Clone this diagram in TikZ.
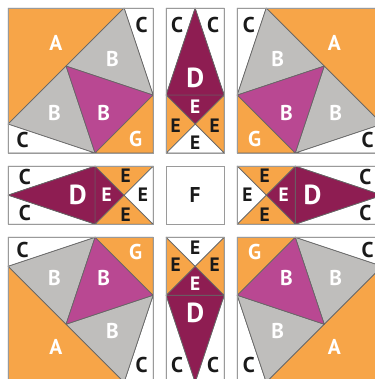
\documentclass[tikz,border=0pt]{standalone}
\usepackage{fontspec}
\setmainfont{PT Sans}

\definecolor{quiltorange}{HTML}{F7A548}
\definecolor{quiltgray}{HTML}{BFBEBC}
\definecolor{quiltpink}{HTML}{B94892}
\definecolor{quiltwine}{HTML}{8E1D52}
\definecolor{seam}{HTML}{666666}
\definecolor{edge}{HTML}{9A9A9A}
\definecolor{ink}{HTML}{1A1A1A}

% square corner block, drawn as the top left one
\newcommand{\cornerblock}[1]{%
\filldraw[piece, fill=quiltorange] (0,5) -- (4,5) -- (0,1) -- cycle;
\filldraw[piece, fill=white]       (4,5) -- (5,5) -- (5,2) -- cycle;
\filldraw[piece, fill=quiltgray]   (2,3) -- (4,5) -- (5,2) -- cycle;
\filldraw[piece, fill=quiltgray]   (2,3) -- (0,1) -- (3,0) -- cycle;
\filldraw[piece, fill=quiltpink]   (2,3) -- (5,2) -- (3,0) -- cycle;
\filldraw[piece, fill=quiltorange] (5,2) -- (5,0) -- (3,0) -- cycle;
\filldraw[piece, fill=white]       (0,1) -- (0,0) -- (3,0) -- cycle;
\draw[frame] (0,0) rectangle (5,5);
\node[lab] (#1-a)  at (1.65,3.8)  {A};
\node[lab] (#1-b1) at (3.6,3.25)  {B};
\node[lab] (#1-b2) at (1.6,1.4)   {B};
\node[lab] (#1-b3) at (3.3,1.4)   {B};
\node[lab] (#1-g)  at (4.4,0.5)   {G};
\node[lab,ink] (#1-c1) at (4.6,4.42) {C};
\node[lab,ink] (#1-c2) at (0.5,0.45) {C};
}

% sashing strip, drawn as the top middle one
\newcommand{\sashstrip}[1]{%
\filldraw[piece, fill=white]       (0,5) -- (1,5) -- (0,2) -- cycle;
\filldraw[piece, fill=white]       (1,5) -- (2,5) -- (2,2) -- cycle;
\filldraw[piece, fill=quiltwine]   (1,5) -- (0,2) -- (2,2) -- cycle;
\filldraw[piece, fill=quiltwine]   (0,2) -- (2,2) -- (1,1) -- cycle;
\filldraw[piece, fill=quiltorange] (0,2) -- (1,1) -- (0,0) -- cycle;
\filldraw[piece, fill=quiltorange] (2,2) -- (2,0) -- (1,1) -- cycle;
\filldraw[piece, fill=white]       (0,0) -- (2,0) -- (1,1) -- cycle;
\draw[frame] (0,0) rectangle (2,5);
\node[lab,ink] (#1-c1) at (0.38,4.42) {C};
\node[lab,ink] (#1-c2) at (1.62,4.42) {C};
\node[lab,big] (#1-d)  at (1,2.6)    {D};
\node[lab,small] (#1-e1) at (1,1.6)  {E};
\node[lab,small,ink] (#1-e2) at (0.33,0.95) {E};
\node[lab,small,ink] (#1-e3) at (1.67,0.95) {E};
\node[lab,small,ink] (#1-e4) at (1,0.35)    {E};
}

\begin{document}
\begin{tikzpicture}[piece/.style={draw=seam, line width=0.7pt, line join=round},
  frame/.style={draw=edge, line width=1.1pt},
  lab/.style={text=white, inner sep=0pt, font=\bfseries\fontsize{21}{21}\selectfont},
  small/.style={font=\bfseries\fontsize{19}{19}\selectfont},
  big/.style={font=\bfseries\fontsize{27}{27}\selectfont}]
\useasboundingbox (-0.28,0.11) rectangle (12.65,13.18);
\clip (-0.28,0.11) rectangle (12.65,13.18);

\begin{scope}[shift={(0,7.9)}]
\cornerblock{tl}
\end{scope}
\begin{scope}[shift={(12.9,7.9)}, xscale=-1]
\cornerblock{tr}
\end{scope}
\begin{scope}[shift={(0,5)}, yscale=-1]
\cornerblock{bl}
\end{scope}
\begin{scope}[shift={(12.9,5)}, scale=-1]
\cornerblock{br}
\end{scope}

\begin{scope}[shift={(5.45,7.9)}]
\sashstrip{tm}
\end{scope}
\begin{scope}[shift={(5.45,5)}, yscale=-1]
\sashstrip{bm}
\end{scope}
\begin{scope}[shift={(5,5.45)}, rotate=90]
\sashstrip{ml}
\end{scope}
\begin{scope}[shift={(7.9,7.45)}, rotate=-90]
\sashstrip{mr}
\end{scope}

\draw[frame] (5.45,5.45) rectangle (7.45,7.45);
\node[lab,ink] (f) at (6.45,6.45) {F};
\end{tikzpicture}
\end{document}
